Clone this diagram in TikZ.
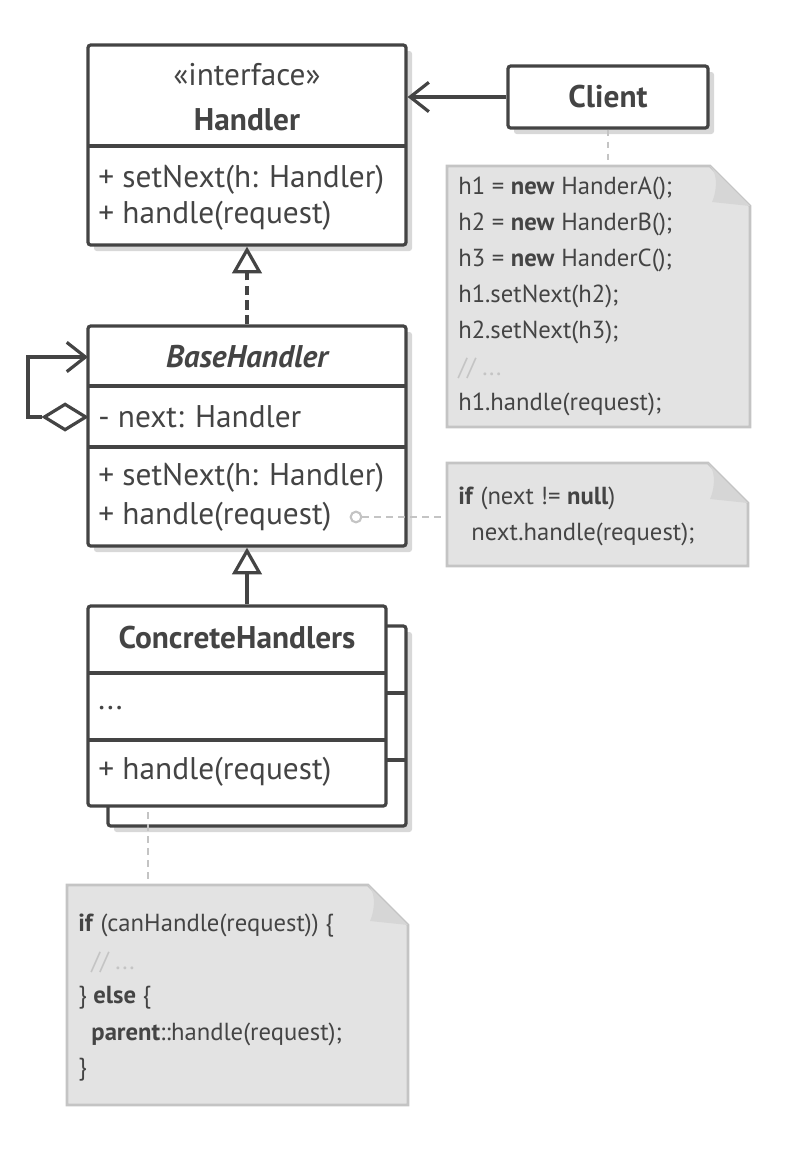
\documentclass[tikz,border=0pt]{standalone}
\usepackage{fontspec}
\setmainfont{PT Sans}
\usetikzlibrary{fit,arrows.meta,shapes.geometric}
\definecolor{ln}{HTML}{444444}
\definecolor{nf}{HTML}{E3E3E3}
\definecolor{nb}{HTML}{C4C4C4}
\definecolor{sh}{HTML}{D8D8D8}
\begin{document}
\begin{tikzpicture}[x=0.75pt,y=-0.75pt,
 box/.style={draw=ln,line width=2.4pt,fill=white,rounded corners=2pt,inner sep=0pt},
 shad/.style={fill=sh,rounded corners=2pt},
 t/.style={font=\fontsize{23.5}{26}\selectfont,text=ln,inner sep=0pt,anchor=west},
 tc/.style={font=\fontsize{23.5}{26}\selectfont,text=ln,inner sep=0pt},
 nt/.style={font=\fontsize{18.5}{21}\selectfont,text=ln,inner sep=0pt,anchor=west},
 dot/.style={draw=nb,line width=2pt,dash pattern=on 5pt off 4pt},
 tri/.style={-{Triangle[open,length=20pt,width=22pt,line width=2.4pt]}},
 opn/.style={-{Straight Barb[length=14pt,width=22pt,line width=2.4pt]}}]
\useasboundingbox (0,0) rectangle (796,1150);
\newcommand{\note}[5]{% x1 y1 x2 y2 name
 \fill[nf] (#1,#2) -- (#3-40,#2) -- (#3,#2+40) -- (#3,#4) -- (#1,#4) -- cycle;
 \draw[nb,line width=2pt] (#1,#2) -- (#3-40,#2) -- (#3,#2+40) -- (#3,#4) -- (#1,#4) -- cycle;
 \fill[nb!70] (#3-40,#2) .. controls (#3-30,#2+10) and (#3-35,#2+30) .. (#3-38,#2+36) -- (#3,#2+40) -- cycle;
 \node[fit={(#1,#2)(#3,#4)},inner sep=0pt] (#5) {};}
% Handler
\fill[shad] (94,51) rectangle (412,251);
\node[box,fit={(88,45)(406,245)}] (handler) {};
\draw[ln,line width=2.4pt] (88,146) -- (406,146);
\node[tc] at (247,75) {«interface»};
\node[tc,font=\fontsize{23.5}{26}\selectfont\bfseries] at (247,120) {Handler};
\node[t] at (98,180) {+ setNext(h: Handler)};
\node[t] at (98,216) {+ handle(request)};
% Client
\fill[shad] (514,72) rectangle (714,134);
\node[box,fit={(508,66)(708,128)}] (client) {};
\node[tc,font=\fontsize{23.5}{26}\selectfont\bfseries] at (608,97) {Client};
\draw[ln,line width=2.4pt,opn] (client.west) -- (handler.east|-client.west);
% Note 1
\note{447}{166}{750}{427}{n1}
\draw[dot] (client.south) -- (n1.north-|client.south);
\node[nt] at (458,188) {h1 = \textbf{new} HanderA();};
\node[nt] at (458,224) {h2 = \textbf{new} HanderB();};
\node[nt] at (458,260) {h3 = \textbf{new} HanderC();};
\node[nt] at (458,296) {h1.setNext(h2);};
\node[nt] at (458,332) {h2.setNext(h3);};
\node[nt,text=nb] at (458,368) {// ...};
\node[nt] at (458,404) {h1.handle(request);};
% BaseHandler
\fill[shad] (94,332) rectangle (412,552);
\node[box,fit={(88,326)(406,546)}] (base) {};
\draw[ln,line width=2.4pt] (88,386) -- (406,386) (88,447) -- (406,447);
\node[tc,font=\fontsize{23.5}{26}\selectfont\bfseries\itshape] at (247,357) {BaseHandler};
\node[t] at (98,417) {- next: Handler};
\node[t] at (98,478) {+ setNext(h: Handler)};
\node[t] at (98,517) {+ handle(request)};
\draw[ln,line width=2.4pt,dash pattern=on 7pt off 4pt,tri] (base.north) -- (handler.south);
% self aggregation
\node[draw=ln,line width=2.4pt,fill=white,shape=diamond,inner sep=0pt,minimum width=32pt,minimum height=20pt,anchor=east] (dia) at (88,417) {};
\coordinate (sa) at (28,357);
\draw[ln,line width=2.4pt,opn] (dia.west) -- (28,417) -- (sa) -- (88,357);
% circle + note 2
\node[draw=nb,line width=1.6pt,circle,inner sep=0pt,minimum size=8pt,fill=white] (hc) at (356,517) {};
\note{447}{463}{748}{566}{n2}
\draw[dot] (hc.east) -- (n2.west|-hc.east);
\node[nt] at (458,498) {\textbf{if} (next != \textbf{null})};
\node[nt] at (458,534) {\ \ next.handle(request);};
% Concrete
\fill[shad] (114,632) rectangle (412,832);
\draw[ln,line width=2.4pt,fill=white,rounded corners=2pt] (108,626) rectangle (406,826);
\draw[ln,line width=2.4pt] (386,693) -- (406,693) (386,760) -- (406,760);
\node[box,fit={(88,606)(386,806)}] (conc) {};
\draw[ln,line width=2.4pt] (88,673) -- (386,673) (88,740) -- (386,740);
\node[tc,font=\fontsize{23.5}{26}\selectfont\bfseries] at (237,638) {ConcreteHandlers};
\node[t] at (98,708) {...};
\node[t] at (98,772) {+ handle(request)};
\draw[ln,line width=2.4pt,tri] (conc.north-|base.south) -- (base.south);
% note 3
\note{67}{885}{408}{1105}{n3}
\coordinate (cb) at (148,812);
\draw[dot] (cb) -- (n3.north-|cb);
\node[nt] at (78,926) {\textbf{if} (canHandle(request)) \{};
\node[nt] at (78,962) {\ \ \textcolor{nb}{// ...}};
\node[nt] at (78,998) {\} \textbf{else} \{};
\node[nt] at (78,1034) {\ \ \textbf{parent}::handle(request);};
\node[nt] at (78,1070) {\}};
\end{tikzpicture}
\end{document}
